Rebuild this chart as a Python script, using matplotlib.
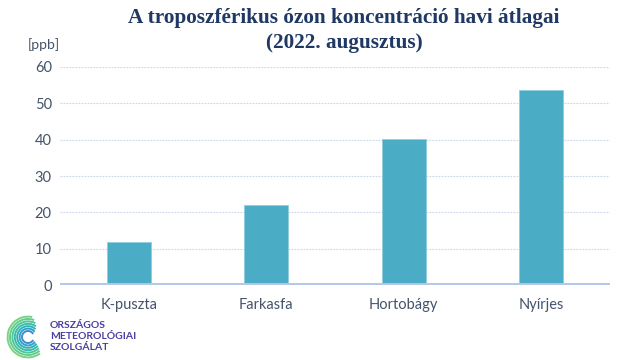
import numpy as np
import matplotlib.pyplot as plt
from matplotlib.patches import Arc

stations = ["K-puszta", "Farkasfa", "Hortobágy", "Nyírjes"]
ozone = [11.8, 22.1, 40.3, 53.7]
yticks = [0, 10, 20, 30, 40, 50, 60]

title = "A troposzférikus ózon koncentráció havi átlagai\n(2022. augusztus)"
unit = "[ppb]"
logo_lines = ["ORSZÁGOS", "METEOROLÓGIAI", "SZOLGÁLAT"]

bar_color = "#4bacc6"
text_color = "#44546a"
grid_color = "#c9d5e8"
base_color = "#b4c7e7"

fig = plt.figure(figsize=(6.4, 3.6), dpi=100)
ax = fig.add_axes([0.094, 0.2083, 0.859, 0.6056])

x = np.arange(len(stations))
ax.bar(x, ozone, width=0.32, color=bar_color, edgecolor="#8fcde0", linewidth=0.6, zorder=3)

ax.set_xlim(-0.5, len(stations) - 0.5)
ax.set_ylim(0, 60)
ax.set_yticks(yticks)
ax.set_xticks(x)
ax.set_xticklabels(stations)
ax.tick_params(axis="both", length=0, labelsize=10.5, labelcolor=text_color, pad=6)
ax.tick_params(axis="x", pad=9)
for lab in ax.get_xticklabels() + ax.get_yticklabels():
    lab.set_fontfamily("Lato")

for y in yticks[1:]:
    ax.axhline(y, color=grid_color, linewidth=0.8, linestyle=(0, (1.5, 1.2)), zorder=1)
ax.axhline(0, color=base_color, linewidth=2.8, zorder=4)

for s in ax.spines.values():
    s.set_visible(False)

fig.text(0.5375, 0.978, title, ha="center", va="top", fontsize=15.3, fontweight="bold",
         family="Liberation Serif", color="#1f3864", linespacing=1.32)
fig.text(0.044, 0.875, unit, ha="left", va="center", fontsize=10, family="Lato", color=text_color)

# logo: spiral-ish arcs and the name
lax = fig.add_axes([4 / 640, 0, 50 / 640, 46 / 360])
lax.set_xlim(0, 50)
lax.set_ylim(0, 46)
lax.set_aspect("equal")
lax.axis("off")
logo_colors = ["#3a8fd0", "#33a0c8", "#2eb0b8", "#38bca8", "#4cc69a", "#62cc8c", "#7ad282"]
for i, c in enumerate(logo_colors):
    r = 6 + i * 2.4
    lax.add_patch(Arc((24, 23), r * 2, r * 2, theta1=30 + i * 8, theta2=330 - i * 4,
                      color=c, linewidth=1.4))
for i, line in enumerate(logo_lines):
    fig.text(50 / 640, 1 - (326 + i * 10.7) / 360, line, ha="left", va="center", fontsize=7.5,
             family="Lato", fontweight="bold", color="#4a3fa0")

fig.savefig("out.png", dpi=100)
